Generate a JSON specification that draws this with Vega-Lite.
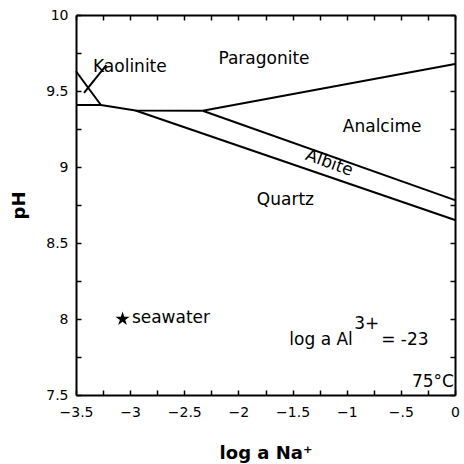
{
  "$schema": "https://vega.github.io/schema/vega-lite/v6.json",
  "width": 379,
  "height": 380,
  "autosize": "none",
  "padding": {"left": 76, "top": 15, "right": 9, "bottom": 69},
  "background": "white",
  "config": {
    "view": {"stroke": null},
    "font": "DejaVu Sans",
    "axis": {
      "domainColor": "black", "domainWidth": 2,
      "tickColor": "black", "tickWidth": 1.5, "tickSize": -5,
      "labelColor": "black", "labelFont": "DejaVu Sans", "labelFontSize": 14, "labelFlush": false,
      "titleColor": "black", "titleFont": "DejaVu Sans", "titleFontSize": 18, "titleFontWeight": "bold",
      "grid": false
    }
  },
  "datasets": {
    "bounds": [
      {"seg": "kaol", "o": 1, "x": -3.5, "y": 9.63},
      {"seg": "kaol", "o": 2, "x": -3.27, "y": 9.408},
      {"seg": "leader", "o": 1, "x": -3.426, "y": 9.487},
      {"seg": "leader", "o": 2, "x": -3.22, "y": 9.67},
      {"seg": "flat", "o": 1, "x": -3.5, "y": 9.408},
      {"seg": "flat", "o": 2, "x": -3.27, "y": 9.408},
      {"seg": "flat", "o": 3, "x": -2.95, "y": 9.372},
      {"seg": "flat", "o": 4, "x": -2.33, "y": 9.37},
      {"seg": "parana", "o": 1, "x": -2.33, "y": 9.37},
      {"seg": "parana", "o": 2, "x": 0, "y": 9.678},
      {"seg": "albana", "o": 1, "x": -2.33, "y": 9.37},
      {"seg": "albana", "o": 2, "x": 0, "y": 8.782},
      {"seg": "qtzalb", "o": 1, "x": -2.95, "y": 9.372},
      {"seg": "qtzalb", "o": 2, "x": 0, "y": 8.651}
    ],
    "centered": [
      {"t": "Paragonite", "x": -1.764, "y": 9.71},
      {"t": "Analcime", "x": -0.673, "y": 9.265},
      {"t": "Quartz", "x": -1.566, "y": 8.783}
    ],
    "lefted": [
      {"t": "Kaolinite", "x": -3.343, "y": 9.658},
      {"t": "seawater", "x": -2.984, "y": 8.005}
    ],
    "albite": [{"t": "Albite", "x": -1.161, "y": 9.026}],
    "altext": [
      {"t": "log a Al", "x": -1.53, "y": 7.829},
      {"t": "3+", "x": -0.931, "y": 7.934},
      {"t": "= -23", "x": -0.682, "y": 7.829}
    ],
    "temp": [{"t": "75°C", "x": -0.01, "y": 7.553}],
    "star": [{"name": "seawater", "x": -3.07, "y": 8.0}]
  },
  "layer": [
    {
      "data": {"name": "bounds"},
      "mark": {"type": "line", "color": "black", "strokeWidth": 2},
      "encoding": {
        "x": {
          "field": "x", "type": "quantitative",
          "scale": {"domain": [-3.5, 0], "nice": false, "zero": false},
          "axis": {
            "orient": "bottom",
            "values": [-3.5, -3.25, -3, -2.75, -2.5, -2.25, -2, -1.75, -1.5, -1.25, -1, -0.75, -0.5, -0.25, 0],
            "format": ".2~f",
            "labelExpr": "datum.value == -0.5 ? '−.5' : (abs(datum.value*2 - round(datum.value*2)) < 0.001 ? datum.label : '')",
            "labelPadding": 15,
            "title": "log a Na⁺",
            "titlePadding": 25
          }
        },
        "y": {
          "field": "y", "type": "quantitative",
          "scale": {"domain": [7.5, 10], "nice": false, "zero": false},
          "axis": {
            "orient": "left",
            "values": [7.5, 7.75, 8, 8.25, 8.5, 8.75, 9, 9.25, 9.5, 9.75, 10],
            "format": ".2~f",
            "labelExpr": "abs(datum.value*2 - round(datum.value*2)) < 0.001 ? datum.label : ''",
            "labelPadding": 13,
            "title": "pH",
            "titlePadding": 17
          }
        },
        "detail": {"field": "seg"},
        "order": {"field": "o"}
      }
    },
    {
      "data": {"name": "star"},
      "mark": {
        "type": "point", "filled": true, "color": "black", "opacity": 1, "size": 220,
        "shape": "M0,-1L0.2245,-0.309L0.951,-0.309L0.363,0.118L0.588,0.809L0,0.382L-0.588,0.809L-0.363,0.118L-0.951,-0.309L-0.2245,-0.309Z"
      },
      "encoding": {
        "x": {
          "field": "x", "type": "quantitative",
          "axis": {
            "orient": "top",
            "values": [-3.5, -3.25, -3, -2.75, -2.5, -2.25, -2, -1.75, -1.5, -1.25, -1, -0.75, -0.5, -0.25, 0],
            "labels": false, "title": null
          }
        },
        "y": {
          "field": "y", "type": "quantitative",
          "axis": {
            "orient": "right",
            "values": [7.5, 7.75, 8, 8.25, 8.5, 8.75, 9, 9.25, 9.5, 9.75, 10],
            "labels": false, "title": null
          }
        }
      }
    },
    {
      "data": {"name": "centered"},
      "mark": {"type": "text", "align": "center", "baseline": "middle", "fontSize": 17, "color": "black", "font": "DejaVu Sans"},
      "encoding": {
        "x": {"field": "x", "type": "quantitative", "axis": null},
        "y": {"field": "y", "type": "quantitative", "axis": null},
        "text": {"field": "t"}
      }
    },
    {
      "data": {"name": "lefted"},
      "mark": {"type": "text", "align": "left", "baseline": "middle", "fontSize": 17, "color": "black", "font": "DejaVu Sans"},
      "encoding": {
        "x": {"field": "x", "type": "quantitative", "axis": null},
        "y": {"field": "y", "type": "quantitative", "axis": null},
        "text": {"field": "t"}
      }
    },
    {
      "data": {"name": "albite"},
      "mark": {"type": "text", "align": "center", "baseline": "middle", "fontSize": 17, "angle": 20, "color": "black", "font": "DejaVu Sans"},
      "encoding": {
        "x": {"field": "x", "type": "quantitative", "axis": null},
        "y": {"field": "y", "type": "quantitative", "axis": null},
        "text": {"field": "t"}
      }
    },
    {
      "data": {"name": "altext"},
      "mark": {"type": "text", "align": "left", "baseline": "alphabetic", "fontSize": 17, "color": "black", "font": "DejaVu Sans"},
      "encoding": {
        "x": {"field": "x", "type": "quantitative", "axis": null},
        "y": {"field": "y", "type": "quantitative", "axis": null},
        "text": {"field": "t"}
      }
    },
    {
      "data": {"name": "temp"},
      "mark": {"type": "text", "align": "right", "baseline": "alphabetic", "fontSize": 17, "color": "black", "font": "DejaVu Sans"},
      "encoding": {
        "x": {"field": "x", "type": "quantitative", "axis": null},
        "y": {"field": "y", "type": "quantitative", "axis": null},
        "text": {"field": "t"}
      }
    }
  ],
  "resolve": {"axis": {"x": "independent", "y": "independent"}}
}
